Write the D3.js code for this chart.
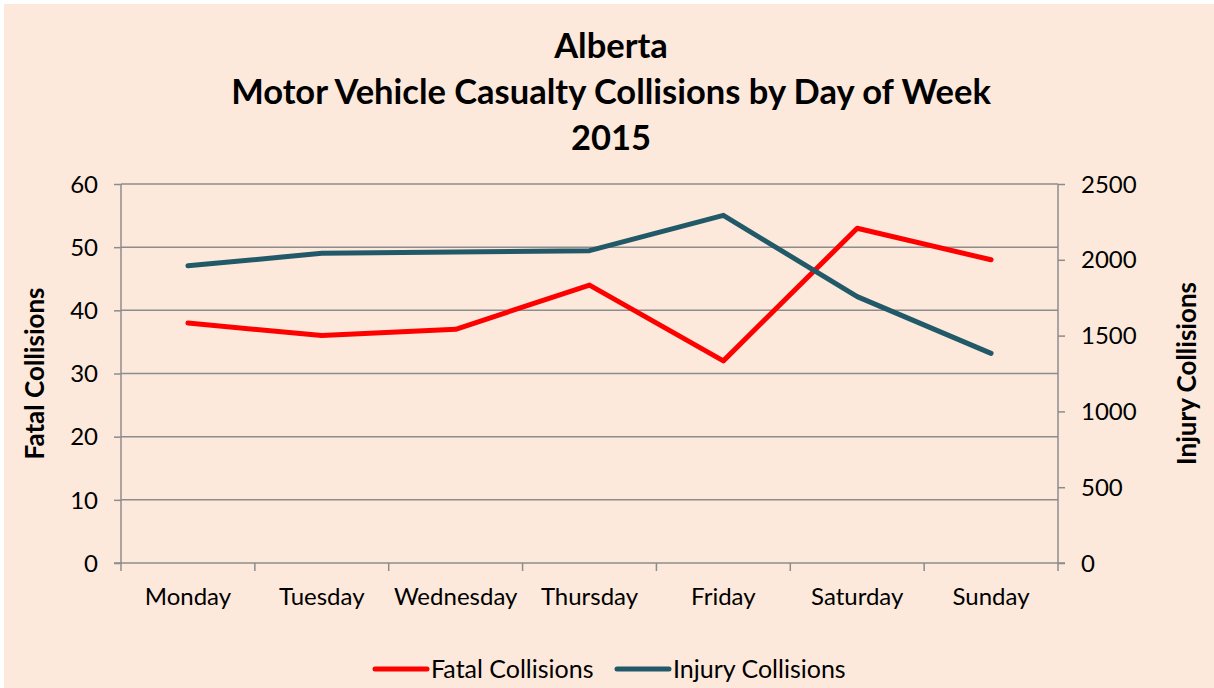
<!DOCTYPE html>
<html>
<head>
<meta charset="utf-8">
<script src="https://cdn.jsdelivr.net/npm/d3@7"></script>
<style>
  body { margin: 0; background: #fff; }
  text { font-family: Lato, "Open Sans", sans-serif; fill: #000; }
</style>
</head>
<body>
<svg class="chart"></svg>
<script>
var days = ["Monday", "Tuesday", "Wednesday", "Thursday", "Friday", "Saturday", "Sunday"];
var fatal = [38, 36, 37, 44, 32, 53, 48];
var injury = [1960, 2043, 2051, 2060, 2293, 1757, 1383];
var fatalTicks = [0, 10, 20, 30, 40, 50, 60];
var injuryTicks = [0, 500, 1000, 1500, 2000, 2500];
var titleLines = ["Alberta", "Motor Vehicle Casualty Collisions by Day of Week", "2015"];

var W = 1214, H = 688;
var margin = {top: 184, right: 156, bottom: 125, left: 121},
    width = W - margin.left - margin.right,
    height = H - margin.top - margin.bottom;

var svg = d3.select(".chart").attr("width", W).attr("height", H);

// background panel
svg.append("rect").attr("x", 4).attr("y", 4).attr("width", W - 4).attr("height", H - 4)
    .attr("fill", "#FDE9DB");

// title
svg.append("g").selectAll("text").data(titleLines).enter().append("text")
    .attr("x", 611)
    .attr("y", function(d, i) { return 58 + i * 46; })
    .attr("text-anchor", "middle")
    .style("font-size", "34.5px")
    .style("font-weight", "bold")
    .text(function(d) { return d; });

var chart = svg.append("g").attr("transform", "translate(" + margin.left + "," + margin.top + ")");

var x = d3.scaleBand().domain(days).range([0, width]);
var yL = d3.scaleLinear().domain([0, 60]).range([height, 0]);
var yR = d3.scaleLinear().domain([0, 2500]).range([height, 0]);

// gridlines
chart.append("g").selectAll("line").data(fatalTicks.slice(1)).enter().append("line")
    .attr("x1", 0).attr("x2", width)
    .attr("y1", function(d) { return yL(d); }).attr("y2", function(d) { return yL(d); })
    .attr("stroke", "#8C8C8C").attr("stroke-width", 1.5);

// left axis
var leftAxis = chart.append("g")
    .call(d3.axisLeft(yL).tickValues(fatalTicks).tickSize(7).tickPadding(16));
leftAxis.selectAll("text").style("font-size", "24px").attr("dy", "0.34em");

// right axis
var rightAxis = chart.append("g").attr("transform", "translate(" + width + ",0)")
    .call(d3.axisRight(yR).tickValues(injuryTicks).tickFormat(d3.format("d")).tickSize(7).tickPadding(16));
rightAxis.selectAll("text").style("font-size", "24px").attr("dy", "0.34em");

// bottom axis, ticks on band boundaries
var bottomAxis = chart.append("g").attr("transform", "translate(0," + height + ")")
    .call(d3.axisBottom(x).tickSize(0).tickPadding(25));
bottomAxis.selectAll("text").style("font-size", "24px");
bottomAxis.selectAll(".bound").data(d3.range(days.length + 1)).enter().append("line")
    .attr("x1", function(i) { return i * x.step(); }).attr("x2", function(i) { return i * x.step(); })
    .attr("y1", 0).attr("y2", 8);

[leftAxis, rightAxis, bottomAxis].forEach(function(a) {
    a.selectAll("path, line").attr("stroke", "#8C8C8C").attr("stroke-width", 1.5);
    a.select(".domain").attr("d", null);
});
chart.append("line").attr("x1", 0).attr("x2", 0).attr("y1", 0).attr("y2", height)
    .attr("stroke", "#8C8C8C").attr("stroke-width", 1.5);
chart.append("line").attr("x1", width).attr("x2", width).attr("y1", 0).attr("y2", height)
    .attr("stroke", "#8C8C8C").attr("stroke-width", 1.5);
chart.append("line").attr("x1", -7).attr("x2", width + 7).attr("y1", height).attr("y2", height)
    .attr("stroke", "#8C8C8C").attr("stroke-width", 1.5);

// axis titles
svg.append("text").attr("transform", "translate(44," + (margin.top + height / 2) + ") rotate(-90)")
    .attr("text-anchor", "middle").style("font-size", "26px").style("font-weight", "bold")
    .text("Fatal Collisions");
svg.append("text").attr("transform", "translate(1196," + (margin.top + height / 2) + ") rotate(-90)")
    .attr("text-anchor", "middle").style("font-size", "26px").style("font-weight", "bold")
    .text("Injury Collisions");

// lines
var cx = function(i) { return x(days[i]) + x.bandwidth() / 2; };
var fatalLine = d3.line().x(function(d, i) { return cx(i); }).y(function(d) { return yL(d); });
var injuryLine = d3.line().x(function(d, i) { return cx(i); }).y(function(d) { return yR(d); });

chart.append("path").attr("d", fatalLine(fatal)).attr("fill", "none")
    .attr("stroke", "#FF0000").attr("stroke-width", 5).attr("stroke-linecap", "round").attr("stroke-linejoin", "round");
chart.append("path").attr("d", injuryLine(injury)).attr("fill", "none")
    .attr("stroke", "#215968").attr("stroke-width", 5).attr("stroke-linecap", "round").attr("stroke-linejoin", "round");

// legend
var legend = [{name: "Fatal Collisions", color: "#FF0000", x: 375},
              {name: "Injury Collisions", color: "#215968", x: 617}];
var lg = svg.append("g").selectAll("g").data(legend).enter().append("g")
    .attr("transform", function(d) { return "translate(" + d.x + ",669)"; });
lg.append("line").attr("x1", 0).attr("x2", 52).attr("y1", 0).attr("y2", 0)
    .attr("stroke", function(d) { return d.color; }).attr("stroke-width", 5).attr("stroke-linecap", "round");
lg.append("text").attr("x", 56).attr("dy", "0.35em").style("font-size", "25px")
    .text(function(d) { return d.name; });
</script>
</body>
</html>
